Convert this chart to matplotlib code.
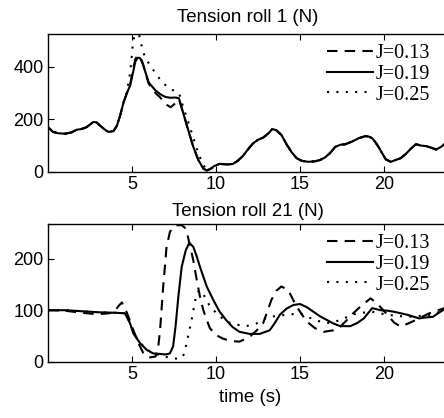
import matplotlib.pyplot as plt

# roll 1 tension (N)
t1_a = [0, 0.3, 0.6, 1.0, 1.4, 1.7, 2.0, 2.3, 2.7, 2.9, 3.1, 3.4, 3.6, 3.9, 4.1, 4.3, 4.5, 4.7, 4.9, 5.05, 5.2, 5.35, 5.5, 5.65, 5.8, 6.0, 6.2, 6.4, 6.7, 7.0, 7.3, 7.6, 7.8, 8.06, 8.35, 8.65, 8.95, 9.25, 9.45, 9.64, 9.9, 10.2, 10.7, 11.0, 11.3, 11.6, 11.9, 12.2, 12.5, 12.8, 13.1, 13.35, 13.6, 13.9, 14.2, 14.5, 14.8, 15.1, 15.5, 15.9, 16.2, 16.5, 16.8, 17.1, 17.4, 17.7, 18.1, 18.5, 18.9, 19.1, 19.3, 19.5, 19.7, 19.9, 20.1, 20.4, 20.7, 21.0, 21.3, 21.6, 21.9, 22.2, 22.5, 22.8, 23.1, 23.4, 23.7, 24.0]
t1_b = [170, 152, 147, 145, 150, 160, 163, 170, 190, 188, 176, 160, 152, 155, 175, 215, 265, 300, 330, 375, 420, 435, 432, 410, 380, 340, 325, 310, 295, 285, 282, 283, 280, 222, 159, 95, 45, 12, 5, 10, 22, 30, 28, 30, 42, 60, 85, 108, 122, 130, 145, 163, 158, 140, 105, 75, 52, 42, 38, 40, 45, 55, 72, 95, 103, 105, 115, 128, 136, 134, 128, 112, 92, 70, 48, 38, 45, 52, 68, 88, 105, 100, 98, 92, 85, 95, 110, 118]
t1_c = [170, 152, 147, 145, 150, 160, 163, 170, 190, 188, 176, 160, 152, 155, 175, 215, 265, 300, 335, 385, 430, 442, 438, 412, 378, 335, 318, 300, 282, 258, 246, 262, 276, 222, 159, 95, 45, 12, 5, 10, 22, 30, 28, 30, 42, 60, 85, 108, 122, 130, 145, 163, 158, 140, 105, 75, 52, 42, 38, 40, 45, 55, 72, 95, 103, 105, 115, 128, 136, 134, 128, 112, 92, 70, 48, 38, 45, 52, 68, 88, 105, 100, 98, 92, 85, 95, 110, 118]
t1_d = [170, 152, 147, 145, 150, 160, 163, 170, 190, 188, 176, 160, 152, 155, 175, 215, 265, 305, 380, 484, 540, 545, 500, 460, 433, 414, 395, 375, 350, 330, 315, 306, 300, 245, 190, 130, 70, 25, 10, 8, 20, 30, 28, 30, 42, 60, 85, 108, 122, 130, 145, 163, 158, 140, 105, 75, 52, 42, 38, 40, 45, 55, 72, 95, 103, 105, 115, 128, 136, 134, 128, 112, 92, 70, 48, 38, 45, 52, 68, 88, 105, 100, 98, 92, 85, 95, 110, 118]

# roll 21 tension (N)
t2_time_b = [0, 1.0, 2.0, 3.0, 4.0, 4.58, 4.88, 5.08, 5.48, 5.88, 6.27, 6.67, 7.0, 7.26, 7.45, 7.6, 7.76, 7.96, 8.2, 8.41, 8.65, 8.85, 9.05, 9.45, 9.84, 10.2, 10.6, 11.0, 11.4, 12.0, 12.6, 13.2, 13.5, 13.8, 14.2, 14.6, 15.0, 15.4, 15.8, 16.2, 16.6, 17.0, 17.4, 18.0, 18.4, 18.8, 19.3, 19.8, 20.2, 20.6, 21.0, 21.4, 22.1, 22.5, 22.9, 23.5, 24.0]
t2_b = [100, 100, 98, 96, 95, 94, 75, 55, 36, 23, 16, 15, 14, 16, 30, 70, 126, 184, 216, 231, 223, 205, 184, 146, 120, 98, 81, 67, 58, 54, 54, 61, 75, 91, 103, 110, 112, 106, 97, 88, 81, 74, 69, 69, 75, 84, 104, 100, 99, 97, 94, 91, 84, 86, 87, 100, 105]
t2_time_c = [0, 1.0, 2.0, 3.0, 3.9, 4.2, 4.4, 4.7, 5.1, 5.4, 5.67, 6.0, 6.4, 6.55, 6.67, 6.86, 7.06, 7.26, 7.45, 7.66, 7.96, 8.15, 8.29, 8.45, 8.65, 8.85, 9.05, 9.25, 9.45, 9.64, 10.0, 10.4, 10.9, 11.4, 12.0, 12.4, 12.8, 13.3, 13.6, 13.9, 14.3, 14.8, 15.4, 15.9, 16.4, 17.0, 17.4, 17.8, 18.2, 18.6, 19.2, 19.6, 20.2, 20.6, 21.0, 21.7, 22.2, 22.7, 23.5, 24.0]
t2_c = [100, 99, 95, 92, 95, 108, 115, 95, 60, 35, 17, 8, 10, 25, 60, 146, 223, 252, 262, 265, 265, 260, 249, 225, 197, 160, 126, 100, 81, 65, 52, 45, 40, 39, 48, 60, 74, 120, 138, 146, 139, 107, 78, 65, 58, 61, 68, 81, 95, 107, 123, 113, 91, 76, 68, 78, 86, 94, 103, 108]
t2_time_d = [0, 1.0, 2.0, 3.0, 4.0, 4.6, 4.9, 5.1, 5.5, 5.9, 6.3, 6.7, 7.2, 7.6, 7.96, 8.1, 8.25, 8.4, 8.55, 8.7, 8.85, 9.05, 9.3, 9.6, 10.0, 10.6, 11.2, 11.8, 12.4, 13.0, 13.6, 14.2, 15.0, 15.6, 16.1, 16.6, 17.0, 17.4, 17.9, 18.4, 19.3, 20.2, 20.8, 21.4, 22.2, 22.9, 23.5, 24.0]
t2_d = [100, 100, 98, 96, 95, 94, 75, 55, 36, 23, 16, 12, 8, 6, 7, 15, 36, 58, 81, 108, 133, 139, 128, 110, 95, 78, 72, 69, 74, 85, 89, 91, 94, 85, 79, 75, 77, 81, 88, 94, 97, 91, 89, 87, 89, 91, 100, 104]

labels = ['J=0.13', 'J=0.19', 'J=0.25']

fig = plt.figure(figsize=(4.44, 4.18), dpi=100)
ax1 = fig.add_axes([0.108, 0.589, 0.946, 0.329])
ax2 = fig.add_axes([0.108, 0.1347, 0.946, 0.329])

lw = 1.5
dash = (0, (5, 3.5))
dot = (0, (1, 3.5))
ax1.plot(t1_a, t1_c, color='k', lw=lw, ls=dash, label=labels[0])
ax1.plot(t1_a, t1_b, color='k', lw=lw, ls='-', label=labels[1])
ax1.plot(t1_a, t1_d, color='k', lw=lw, ls=dot, label=labels[2])
ax2.plot(t2_time_c, t2_c, color='k', lw=lw, ls=dash, label=labels[0])
ax2.plot(t2_time_b, t2_b, color='k', lw=lw, ls='-', label=labels[1])
ax2.plot(t2_time_d, t2_d, color='k', lw=lw, ls=dot, label=labels[2])

ax1.set_ylim(0, 524)
ax1.set_yticks([0, 200, 400])
ax2.set_ylim(0, 267)
ax2.set_yticks([0, 100, 200])

for ax, ytop in [(ax1, 44), (ax2, 234)]:
    ax.set_xlim(0, 25)
    ax.set_xticks([5, 10, 15, 20])
    ax.tick_params(direction='in', top=True, right=True, length=4, width=0.8,
                   labelsize=13, pad=3)
    for s in ax.spines.values():
        s.set_linewidth(1.0)
    for lab in ax.get_xticklabels() + ax.get_yticklabels():
        lab.set_family('Liberation Sans')
    ax.legend(loc='upper left', bbox_to_anchor=(327 / 444, 1 - ytop / 418),
              bbox_transform=fig.transFigure, frameon=False, borderpad=0,
              borderaxespad=0, handlelength=2.3, handletextpad=0.1,
              labelspacing=0.08, prop={'family': 'Liberation Serif', 'size': 14.5})

fig.text(248 / 444, 1 - 17 / 418, 'Tension roll 1 (N)', ha='center', va='center',
         fontsize=13.5, family='Liberation Sans')
fig.text(248 / 444, 1 - 212 / 418, 'Tension roll 21 (N)', ha='center', va='center',
         fontsize=13.5, family='Liberation Sans')
fig.text(250 / 444, 1 - 397 / 418, 'time (s)', ha='center', va='center',
         fontsize=13.5, family='Liberation Sans')

fig.savefig('out.png', dpi=100)
